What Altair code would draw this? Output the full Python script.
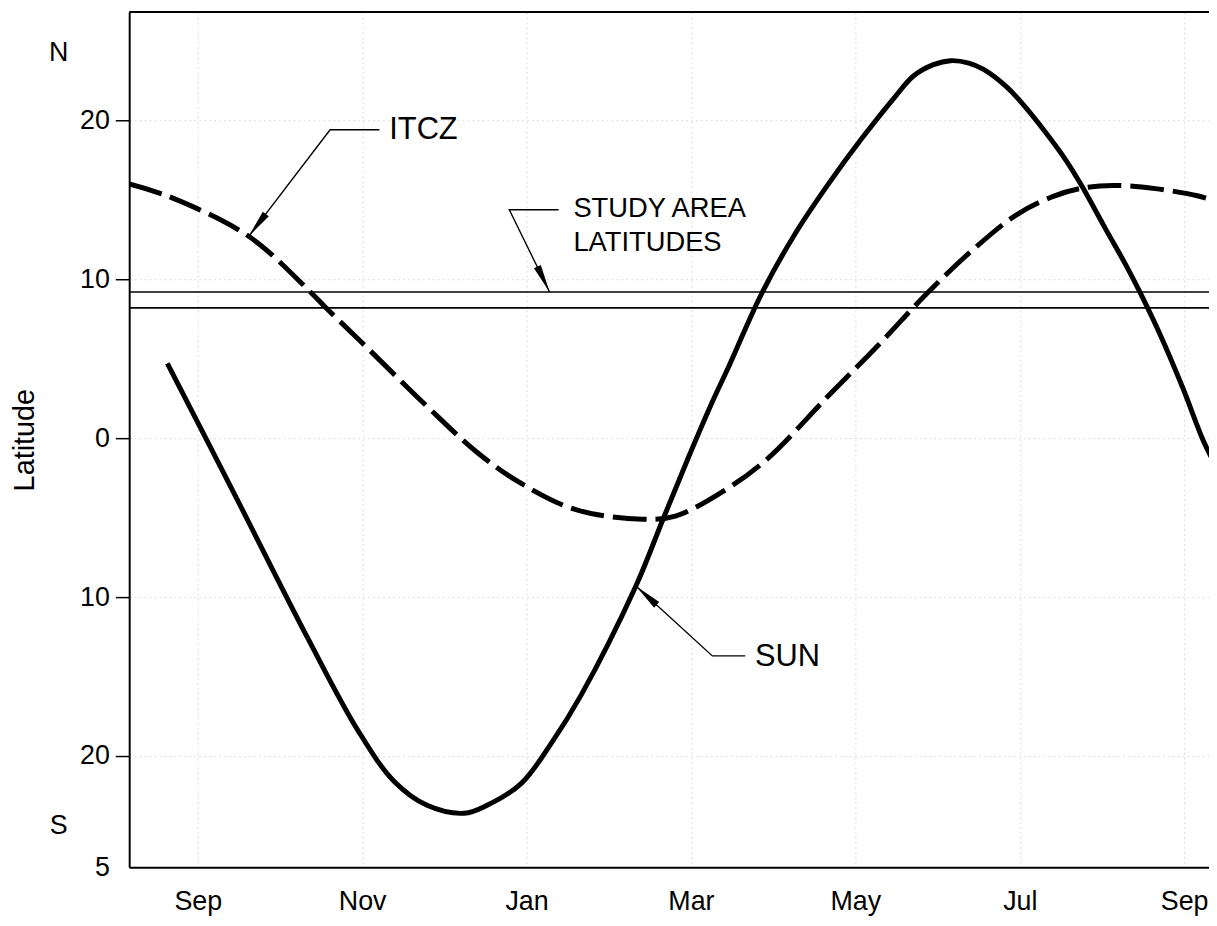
import json
import altair as alt
import pandas as pd

# ---------------- data ----------------
month_ticks = [0, 2, 4, 6, 8, 10, 12]
month_labels = ["Sep", "Nov", "Jan", "Mar", "May", "Jul", "Sep"]
lat_ticks = [-27, -20, -10, 0, 10, 20]

itcz_month = [-0.834, -0.35, 0.62, 1.37, 1.55, 1.98, 2.79, 3.40, 3.92, 4.60, 5.41,
              5.81, 6.42, 6.94, 7.66, 8.26, 8.87, 9.44, 9.96, 10.40, 10.73, 11.13,
              11.65, 12.16, 12.33]
itcz_lat = [16.0, 15.2, 12.7, 9.2, 8.25, 6.1, 2.0, -0.9, -2.8, -4.5, -5.1,
            -4.9, -3.25, -1.25, 2.6, 5.75, 9.1, 11.9, 14.05, 15.2, 15.7, 15.9,
            15.7, 15.25, 15.0]

sun_month = [-0.37, 0.42, 1.34, 1.95, 2.39, 2.79, 3.24, 3.52, 3.94, 4.30, 4.66,
             5.33, 5.66, 5.97, 6.27, 6.45, 6.86, 7.26, 7.66, 8.07, 8.47, 8.71,
             8.95, 9.16, 9.38, 9.56, 9.84, 10.04, 10.32, 10.56, 10.74, 11.04,
             11.29, 11.46, 11.70, 11.98, 12.22, 12.33]
sun_lat = [4.7, -3.25, -12.6, -18.4, -21.6, -23.1, -23.6, -23.1, -21.7, -19.2, -16.2,
           -9.3, -5.1, -1.2, 2.4, 4.4, 9.1, 12.8, 15.9, 18.8, 21.4, 22.8,
           23.5, 23.75, 23.6, 23.2, 22.1, 21.0, 19.2, 17.5, 16.0, 13.2,
           10.9, 9.2, 6.6, 3.2, 0.0, -1.2]

study_lats = [9.2, 8.2]

# annotation leaders (label end -> elbow -> arrow tip)
leader_name = ["ITCZ"] * 3 + ["STUDY"] * 3 + ["SUN"] * 3
leader_month = [2.21, 1.61, 0.62, 4.39, 3.79, 4.28, 6.66, 6.26, 5.33]
leader_lat = [19.4, 19.4, 12.7, 14.375, 14.375, 9.2, -13.7, -13.7, -9.3]
leader_idx = [0, 1, 2, 0, 1, 2, 0, 1, 2]

tip_month = [0.62, 4.28, 5.33]
tip_lat = [12.7, 9.2, -9.3]
tip_angle = [217.5, 154.3, 312.3]

label_text = ["ITCZ", "STUDY AREA", "LATITUDES", "SUN"]
label_month = [2.33, 4.57, 4.57, 6.78]
label_lat = [19.4, 14.4, 12.25, -13.75]
label_size = [31, 27.5, 27.5, 31]

hemi_text = ["N", "S"]
hemi_lat = [24.2, -24.4]

# ---------------- chart ----------------
W, H = 1087, 861
FONT = "Liberation Sans, Arial, Helvetica, sans-serif"

xs = alt.Scale(domain=[-0.834, 12.302], nice=False, zero=False)
ys = alt.Scale(domain=[-27, 26.8125], nice=False, zero=False)

xaxis = alt.Axis(
    values=month_ticks,
    labelExpr=json.dumps(month_labels) + "[round(datum.value/2)]",
    title=None, ticks=False, tickSize=0, labelPadding=21,
    labelFont=FONT, labelFontSize=27, labelColor="black",
    domainColor="black", domainWidth=2,
    grid=True, gridColor="#999999", gridDash=[2, 3], gridOpacity=0.35,
)
yaxis = alt.Axis(
    values=lat_ticks,
    labelExpr="datum.value < -25 ? '5' : '' + abs(datum.value)",
    title="Latitude", titleFont=FONT, titleFontSize=29, titleFontWeight="normal",
    titleColor="black", titleX=-105, titleBaseline="middle",
    tickSize=14, tickWidth=1.5, tickColor="black",
    tickOpacity={"condition": {"test": "datum.value < -25", "value": 0}, "value": 1},
    labelPadding=6, labelFont=FONT, labelFontSize=27, labelColor="black",
    domainColor="black", domainWidth=2,
    grid=True, gridColor="#999999", gridDash=[2, 3], gridOpacity=0.35,
)


def X():
    return alt.X("m:Q", scale=xs, axis=xaxis)


def Y():
    return alt.Y("lat:Q", scale=ys, axis=yaxis)


itcz_df = pd.DataFrame({"m": itcz_month, "lat": itcz_lat})
sun_df = pd.DataFrame({"m": sun_month, "lat": sun_lat})
study_df = pd.DataFrame({"lat": study_lats})
leader_df = pd.DataFrame({"name": leader_name, "m": leader_month,
                          "lat": leader_lat, "i": leader_idx})
tip_df = pd.DataFrame({"m": tip_month, "lat": tip_lat, "ang": tip_angle})
label_df = pd.DataFrame({"t": label_text, "m": label_month,
                         "lat": label_lat, "s": label_size})
hemi_df = pd.DataFrame({"t": hemi_text, "lat": hemi_lat})

sun = alt.Chart(sun_df).mark_line(
    color="black", strokeWidth=5, interpolate="catmull-rom", clip=True
).encode(x=X(), y=Y())

itcz = alt.Chart(itcz_df).mark_line(
    color="black", strokeWidth=5, strokeDash=[34, 9], interpolate="catmull-rom", clip=True
).encode(x=X(), y=Y())

study = alt.Chart(study_df).mark_rule(color="black", strokeWidth=1.6).encode(y=Y())

leaders = alt.Chart(leader_df).mark_line(color="black", strokeWidth=1.4).encode(
    x=X(), y=Y(), detail="name:N", order="i:Q"
)

tips = alt.Chart(tip_df).mark_point(
    shape="M0,0L-0.27,2L0.27,2Z", filled=True, color="black", opacity=1, size=800
).encode(x=X(), y=Y(), angle=alt.Angle("ang:Q", scale=None))

labels = alt.Chart(label_df).mark_text(
    align="left", baseline="middle", font=FONT, color="black"
).encode(x=X(), y=Y(), text="t:N", size=alt.Size("s:Q", scale=None))

hemi = alt.Chart(hemi_df).mark_text(
    align="center", baseline="middle", font=FONT, fontSize=27, color="black"
).encode(x=alt.value(-71), y=Y(), text="t:N")

top_border = alt.Chart(pd.DataFrame({"a": [0]})).mark_rule(
    color="black", strokeWidth=2
).encode(x=alt.value(0), x2=alt.value(W), y=alt.value(0))

chart = alt.layer(
    study, itcz, sun, leaders, tips, labels, hemi, top_border
).properties(
    width=W, height=H,
    autosize=alt.AutoSizeParams(type="none"),
    padding={"left": 122, "top": 1, "right": 0, "bottom": 48},
    background="white",
).configure_view(stroke=None)

chart.save("out.html", embed_options={"renderer": "svg", "actions": False})
